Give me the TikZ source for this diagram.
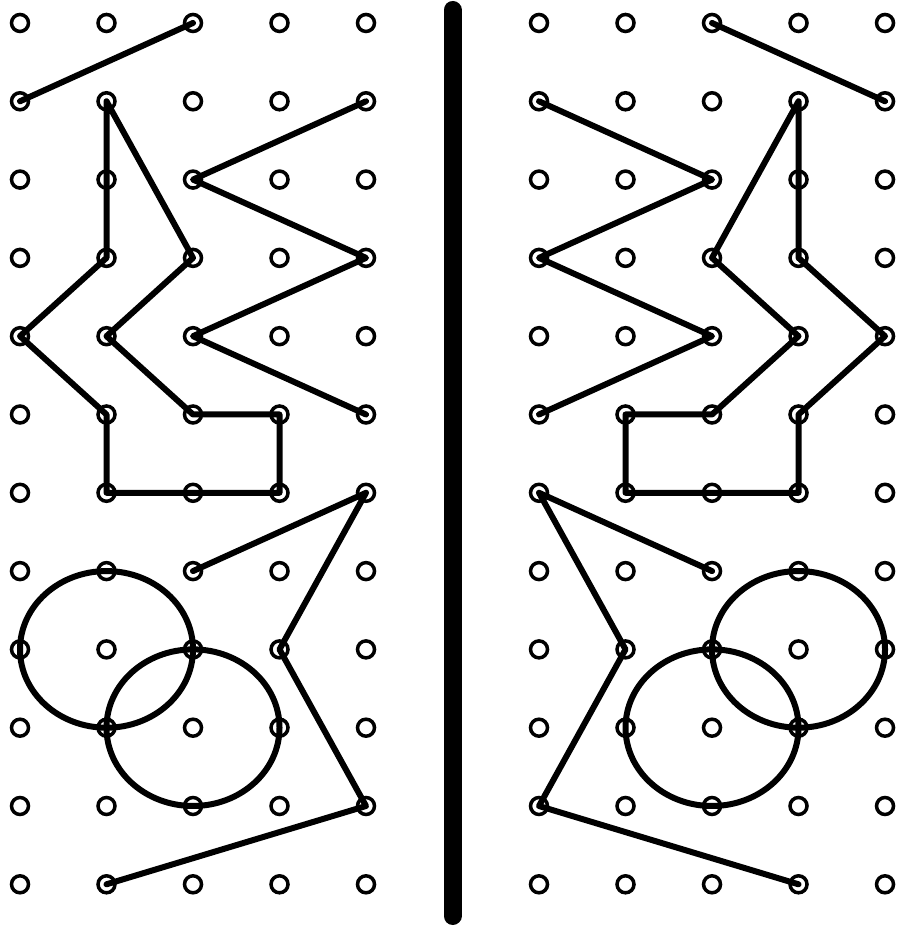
\documentclass[tikz,border=0pt]{standalone}
\usepackage{tikz}
\usetikzlibrary{positioning}

\begin{document}
\begin{tikzpicture}[
    titik/.style={draw, circle, line width=0.035cm, inner sep=0pt, minimum size=0.17cm},
    garis/.style={line width=0.06cm, line join=round, line cap=round},
    sekat/.style={line width=0.18cm, line cap=round}
  ]
    \useasboundingbox (0,0) rectangle (8.97,9.28);
    \foreach \c in {0,...,4}
      \foreach \r in {0,...,11} {
        \node[titik] (L\c-\r) at ({0.20+0.865*\c},{9.05-0.783*\r}) {};
        \node[titik] (R\c-\r) at ({5.39+0.865*\c},{9.05-0.783*\r}) {};
      }
    \coordinate (atas) at (4.525,9.18);
    \coordinate (bawah) at (4.525,0.12);
    \draw[sekat] (atas) -- (bawah);

    \draw[garis] (L0-1.center) -- (L2-0.center);
    \draw[garis] (L1-1.center) -- (L1-3.center) -- (L0-4.center) -- (L1-5.center) -- (L1-6.center)
      -- (L3-6.center) -- (L3-5.center) -- (L2-5.center) -- (L1-4.center) -- (L2-3.center) -- cycle;
    \draw[garis] (L4-1.center) -- (L2-2.center) -- (L4-3.center) -- (L2-4.center) -- (L4-5.center);
    \draw[garis] (L2-7.center) -- (L4-6.center) -- (L3-8.center) -- (L4-10.center) -- (L1-11.center);
    \draw[garis] (L1-8.center) ellipse [x radius=0.865, y radius=0.783];
    \draw[garis] (L2-9.center) ellipse [x radius=0.865, y radius=0.783];

    \draw[garis] (R4-1.center) -- (R2-0.center);
    \draw[garis] (R3-1.center) -- (R3-3.center) -- (R4-4.center) -- (R3-5.center) -- (R3-6.center)
      -- (R1-6.center) -- (R1-5.center) -- (R2-5.center) -- (R3-4.center) -- (R2-3.center) -- cycle;
    \draw[garis] (R0-1.center) -- (R2-2.center) -- (R0-3.center) -- (R2-4.center) -- (R0-5.center);
    \draw[garis] (R2-7.center) -- (R0-6.center) -- (R1-8.center) -- (R0-10.center) -- (R3-11.center);
    \draw[garis] (R3-8.center) ellipse [x radius=0.865, y radius=0.783];
    \draw[garis] (R2-9.center) ellipse [x radius=0.865, y radius=0.783];
  \end{tikzpicture}
\end{document}
